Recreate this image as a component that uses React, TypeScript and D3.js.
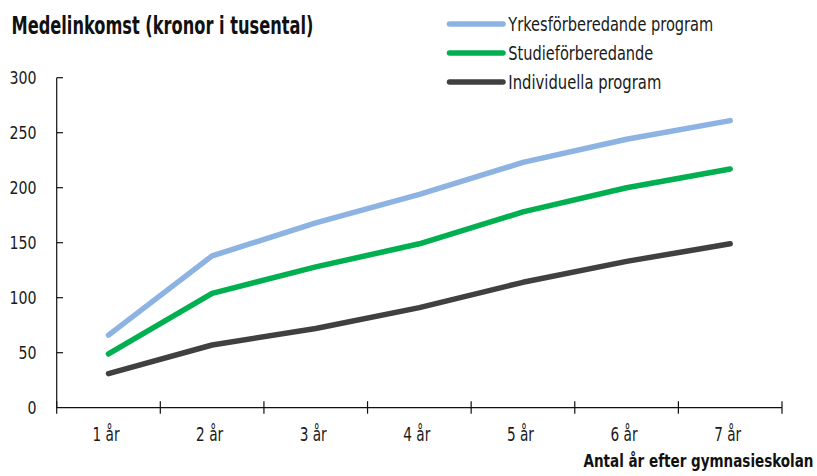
import React from "react";
import * as d3 from "d3";

const categories = ["1 år", "2 år", "3 år", "4 år", "5 år", "6 år", "7 år"];
const yTicks = [0, 50, 100, 150, 200, 250, 300];

const seriesNames = [
  "Yrkesförberedande program",
  "Studieförberedande",
  "Individuella program",
];
const seriesColors = ["#8db3e2", "#00b050", "#404040"];

const yrkes = [66, 138, 168, 194, 223, 244, 261];
const studie = [49, 104, 128, 149, 178, 200, 217];
const individ = [31, 57, 72, 91, 114, 133, 149];

const seriesValues = [yrkes, studie, individ];

const W = 817;
const H = 476;
const FONT = "'DejaVu Sans Condensed', 'Liberation Sans Narrow', sans-serif";

// the original uses a narrow face; squeeze the condensed one to match
const legendWidths = [205, 145, 153];

export default function App() {
  const x = d3.scaleBand<string>().domain(categories).range([56.7, 782]);
  const y = d3.scaleLinear().domain([0, 300]).range([407.7, 77.7]);

  const line = d3
    .line<number>()
    .x((_, i) => (x(categories[i]) || 0) + x.bandwidth() / 2)
    .y((d) => y(d));

  const boundaries = categories.map((c) => x(c) || 0).concat([x.range()[1]]);

  return (
    <svg
      width={W}
      height={H}
      style={{ position: "fixed", left: 0, top: 0, background: "#fff" }}
      fontFamily={FONT}
    >
      {/* title */}
      <text
        x={11.5}
        y={34}
        fontSize={25}
        fontWeight="bold"
        fill="#111"
        textLength={302}
        lengthAdjust="spacingAndGlyphs"
      >
        Medelinkomst (kronor i tusental)
      </text>

      {/* y axis */}
      <line x1={56.7} x2={56.7} y1={y(300)} y2={y(0)} stroke="#111" strokeWidth={1.2} />
      {yTicks.map((t) => (
        <g key={t}>
          {t > 0 && (
            <line x1={56.7} x2={63} y1={y(t)} y2={y(t)} stroke="#111" strokeWidth={1.2} />
          )}
          <text
            x={36.5}
            y={y(t) + 6.5}
            textAnchor="end"
            fontSize={18}
            fill="#1a1a1a"
            textLength={String(t).length * 9}
            lengthAdjust="spacingAndGlyphs"
          >
            {t}
          </text>
        </g>
      ))}

      {/* x axis */}
      <line x1={x.range()[0]} x2={x.range()[1]} y1={y(0)} y2={y(0)} stroke="#111" strokeWidth={1.2} />
      {boundaries.map((b, i) => (
        <line key={i} x1={b} x2={b} y1={y(0) - 6.5} y2={y(0) + 6} stroke="#111" strokeWidth={1.2} />
      ))}
      {categories.map((c) => (
        <text
          key={c}
          x={(x(c) || 0) + x.bandwidth() / 2 - 2.5}
          y={440.5}
          textAnchor="middle"
          fontSize={19}
          fill="#1a1a1a"
          textLength={27}
          lengthAdjust="spacingAndGlyphs"
        >
          {c}
        </text>
      ))}
      <text
        x={813.5}
        y={467}
        textAnchor="end"
        fontSize={17}
        fontWeight="bold"
        fill="#111"
        textLength={230}
        lengthAdjust="spacingAndGlyphs"
      >
        Antal år efter gymnasieskolan
      </text>

      {/* series */}
      {seriesValues.map((vals, i) => (
        <path
          key={seriesNames[i]}
          d={line(vals) || ""}
          fill="none"
          stroke={seriesColors[i]}
          strokeWidth={5.5}
          strokeLinecap="round"
          strokeLinejoin="round"
        />
      ))}

      {/* legend */}
      {seriesNames.map((name, i) => {
        const ly = 24 + i * 29;
        return (
          <g key={name}>
            <line
              x1={449.5}
              x2={503}
              y1={ly}
              y2={ly}
              stroke={seriesColors[i]}
              strokeWidth={5.5}
              strokeLinecap="round"
            />
            <text
              x={508.3}
              y={ly + 7}
              fontSize={20}
              fill="#1a1a1a"
              textLength={legendWidths[i]}
              lengthAdjust="spacingAndGlyphs"
            >
              {name}
            </text>
          </g>
        );
      })}
    </svg>
  );
}
